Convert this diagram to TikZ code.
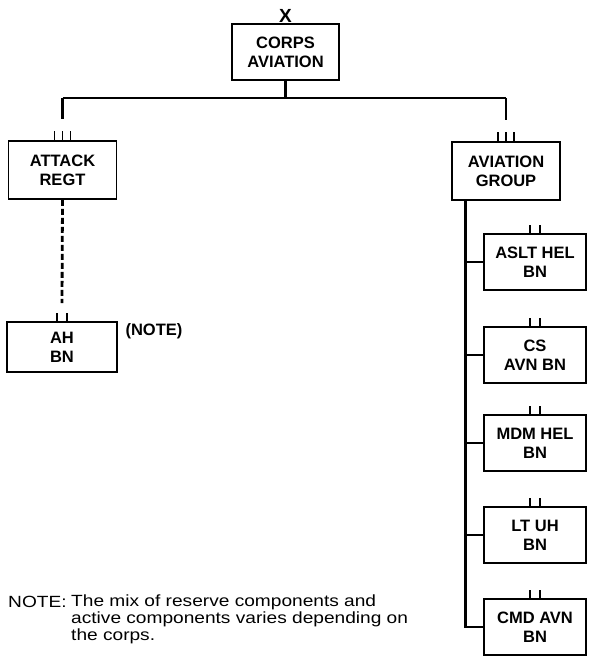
\documentclass[tikz,border=0pt]{standalone}
\usepackage{fontspec}
\setmainfont{Liberation Sans}
\newfontfamily\notefont[FakeStretch=1.18]{Liberation Sans}
\usetikzlibrary{calc,positioning}

\begin{document}
\begin{tikzpicture}[x=1pt,y=-1pt,
  unit/.style={draw,line width=1.8pt,minimum width=108pt,minimum height=58pt,
    align=center,inner sep=0pt,font=\bfseries\fontsize{16.5}{19}\selectfont},
  bn/.style={unit,minimum width=102pt,minimum height=56pt},
  link/.style={line width=2.8pt},
  tick/.style={line width=1.6pt}]
\useasboundingbox (0,0) rectangle (591,657);

% Headquarters
\node[unit,minimum width=107pt,minimum height=56pt] (corps) at (285.5,52) {CORPS\\AVIATION};
\node[font=\bfseries\fontsize{19}{19}\selectfont,inner sep=0pt,anchor=south] (corpsmark)
  at ([yshift=0.5pt]corps.north) {X};

% Regiment and group
\node[unit] (attack) at (62.5,170) {ATTACK\\REGT};
\node[unit] (avgrp) at (506,171) {AVIATION\\GROUP};

% Battalions
\node[unit,minimum width=110pt,minimum height=50pt] (ah) at (62,347) {AH\\BN};
\node[font=\bfseries\fontsize{16.5}{19}\selectfont] (ahnote) at (154,331) {(NOTE)};
\node[bn] (aslt) at (535,262) {ASLT HEL\\BN};
\node[bn] (cs) at (535,355) {CS\\AVN BN};
\node[bn] (mdm) at (535,443) {MDM HEL\\BN};
\node[bn] (lt) at (535,535) {LT UH\\BN};
\node[bn] (cmd) at (535,627) {CMD AVN\\BN};

% Echelon marks
\foreach \n in {attack,avgrp}
  \foreach \dx in {-8,0,8}
    \draw[tick] ([xshift=\dx pt]\n.north) -- ++(0,-9);
\foreach \n in {ah,aslt,cs,mdm,lt,cmd}
  \foreach \dx in {-5,5}
    \draw[tick] ([xshift=\dx pt]\n.north) -- ++(0,-8);

% Command lines
\draw[link] (corps.south) -- ++(0,17) coordinate (bus);
\draw[link] (attack.north |- bus) -- (avgrp.north |- bus);
\draw[link] (attack.north |- bus) -- ([yshift=21pt]attack.north);
\draw[link] (avgrp.north |- bus) -- ([yshift=21pt]avgrp.north);
\draw[link,dash pattern=on 6pt off 3pt] (attack.south) -- ([yshift=18pt]ah.north);

\coordinate (spine) at ([xshift=14pt]avgrp.south west);
\draw[link] (spine) |- (cmd.west);
\foreach \n in {aslt,cs,mdm,lt}
  \draw[link] (spine |- \n.west) -- (\n.west);

% Note
\node[anchor=base west,inner sep=0pt,font=\notefont\fontsize{16.2}{17}\selectfont] (notelbl)
  at (8,607) {NOTE:};
\node[anchor=north west,inner sep=0pt,align=left,font=\notefont\fontsize{16.2}{17}\selectfont] (notebody)
  at (71,595) {The mix of reserve components and\\active components varies depending on\\the corps.};
\end{tikzpicture}
\end{document}
